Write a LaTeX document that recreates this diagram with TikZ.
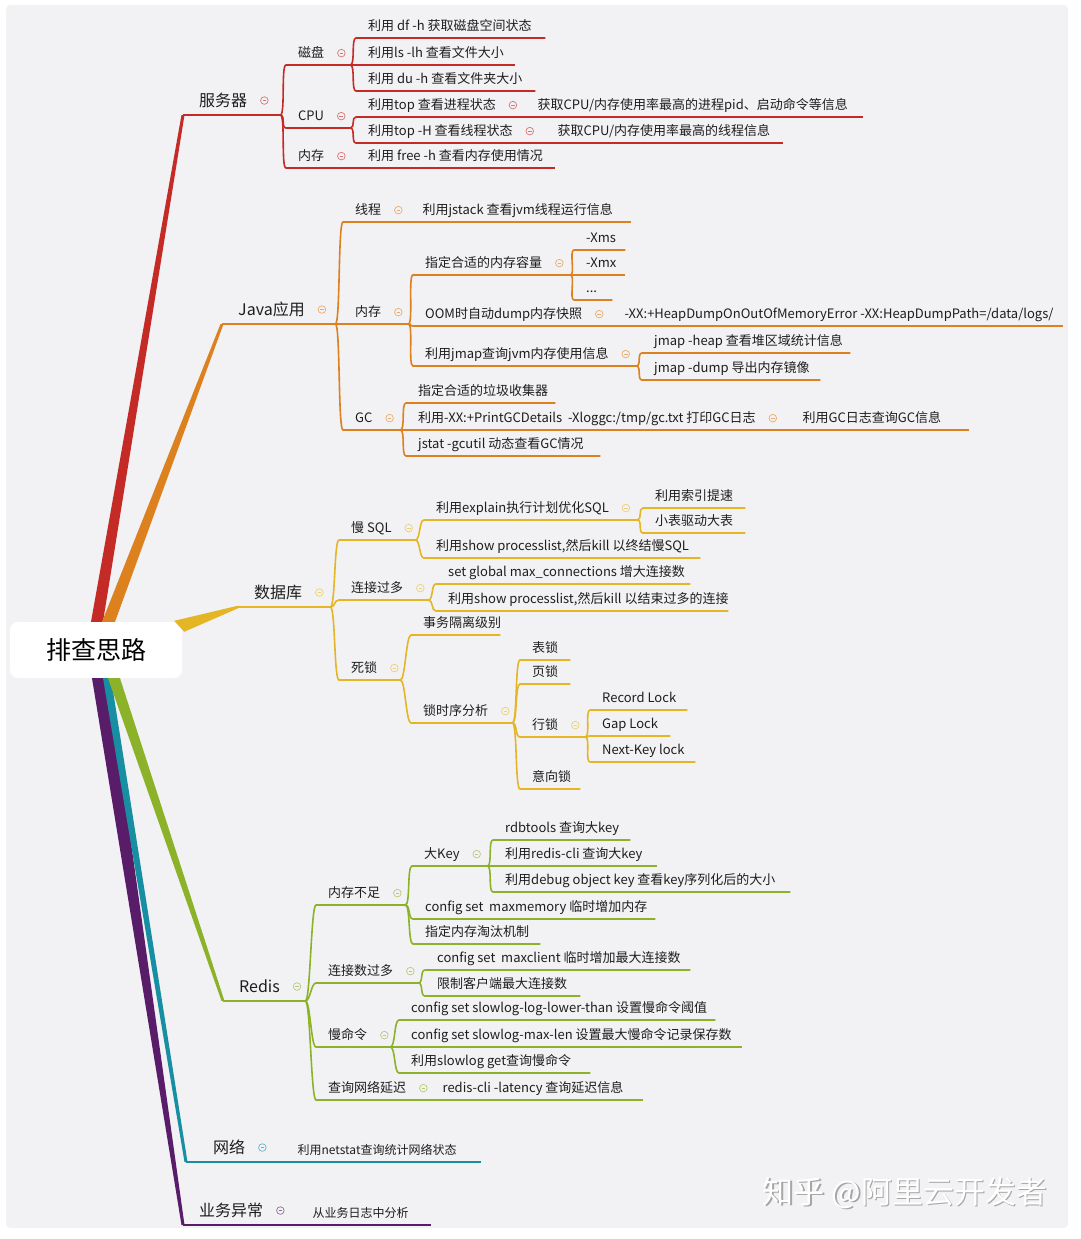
\documentclass[tikz,border=0pt]{standalone}
\usepackage{fontspec}
\setmainfont{Noto Sans CJK SC}
\definecolor{bgpanel}{HTML}{F2F2F4}
\definecolor{txt}{HTML}{1E1E1E}
\definecolor{cRed}{RGB}{196,42,38}
\definecolor{cOrg}{RGB}{221,128,30}
\definecolor{cYel}{RGB}{228,182,38}
\definecolor{cGrn}{RGB}{140,178,42}
\definecolor{cTeal}{RGB}{24,142,162}
\definecolor{cPur}{RGB}{88,28,105}
\colorlet{br}{cRed}
% 折叠图标
\newcommand{\ic}{\hskip13pt\tikz[baseline=-0.36em]{\draw[br!65!white,line width=0.7pt] (0pt,0pt) circle (3.8pt);
  \draw[br!65!white,line width=0.7pt] (-1.8pt,0pt) -- (1.8pt,0pt);}}
\tikzset{
  tp/.style={anchor=south west, inner xsep=0pt, inner ysep=7pt, text depth=0pt, text=txt,
    font=\fontsize{13}{15}\selectfont,
    execute at begin node={\hbox to #1pt\bgroup\hskip12pt\relax}, execute at end node={\hss\egroup}},
  main/.style 2 args={anchor=south west, inner xsep=0pt, inner ysep=8.5pt, text depth=0pt, text=txt,
    font=\fontsize{16}{18}\selectfont,
    execute at begin node={\hbox to #1pt\bgroup\hskip#2pt\relax}, execute at end node={\hss\egroup}},
  root/.style={fill=white, rounded corners=8pt, minimum width=172pt, minimum height=56pt,
    text=black, font=\fontsize{25}{28}\selectfont},
  ln/.style={draw=br, line width=1.6pt},
  ln1/.style={draw=br, line width=2pt},
  fork/.style={to path={.. controls +(5,0) and +(-5,0) .. (\tikztotarget) \tikztonodes}},
  wm/.style={font=\fontsize{31}{34}\selectfont}
}
\begin{document}
\begin{tikzpicture}[x=1pt,y=-1pt]
  \useasboundingbox (0,0) rectangle (1080,1239);
  % 背景
  \fill[white] (0,0) rectangle (1080,1239);
  \fill[bgpanel, rounded corners=4pt] (6,5) rectangle (1068,1228);
  % 中心主题
  \node[root] (root) at (96,650) {排查思路};

  % 服务器
  \begin{scope}
    \colorlet{br}{cRed}
    \node[main={97}{16}] (srv) at (183,115) {服务器\ic};
    \node[tp=64] (disk) at (286,65) {磁盘\ic};
    \node[tp=64] (cpu) at (286,128) {CPU\ic};
    \node[tp=64] (smem) at (286,168) {内存\ic};
    \node[tp=189] (df) at (356,38) {利用 df -h 获取磁盘空间状态};
    \node[tp=159] (ls) at (356,65) {利用ls -lh 查看文件大小};
    \node[tp=179] (du) at (356,91) {利用 du -h 查看文件夹大小};
    \node[tp=169] (top) at (356,117) {利用top 查看进程状态\ic};
    \node[tp=337] (topinfo) at (top.south east) {获取CPU/内存使用率最高的进程pid、启动命令等信息};
    \node[tp=189] (toph) at (356,143) {利用top -H 查看线程状态\ic};
    \node[tp=237] (tophinfo) at (toph.south east) {获取CPU/内存使用率最高的线程信息};
    \node[tp=199] (free) at (356,168) {利用 free -h 查看内存使用情况};
    \fill[br] ([xshift=-5pt]root.north) -- ([xshift=7pt]root.north) -- ([xshift=1.5pt]srv.south west)
      -- ([xshift=-1.5pt]srv.south west) -- cycle;
    \draw[ln1] (srv.south west) -- (srv.south east);
    \foreach \c in {disk,cpu,smem} \draw[ln] (srv.south east) to[fork] (\c.south west) -- (\c.south east);
    \foreach \c in {df,ls,du} \draw[ln] (disk.south east) to[fork] (\c.south west) -- (\c.south east);
    \foreach \c in {top,toph} \draw[ln] (cpu.south east) to[fork] (\c.south west) -- (\c.south east);
    \draw[ln] (smem.south east) to[fork] (free.south west) -- (free.south east);
    \draw[ln] (top.south east) -- (topinfo.south east);
    \draw[ln] (toph.south east) -- (tophinfo.south east);
  \end{scope}

  % Java应用
  \begin{scope}
    \colorlet{br}{cOrg}
    \node[main={113}{16}] (java) at (222,324) {Java应用\ic};
    \node[tp=67] (thr) at (343,222) {线程\ic};
    \node[tp=220] (jstack) at (thr.south east) {利用jstack 查看jvm线程运行信息};
    \node[tp=65] (jmem) at (343,324) {内存\ic};
    \node[tp=57] (gc) at (343,430) {GC\ic};
    \node[tp=157] (cap) at (413,275) {指定合适的内存容量\ic};
    \node[tp=51] (xms) at (574,250) {-Xms};
    \node[tp=51] (xmx) at (574,275) {-Xmx};
    \node[tp=38] (more) at (574,300) {...};
    \node[tp=199] (oom) at (413,326) {OOM时自动dump内存快照\ic};
    \node[tp=450] (heapdump) at (oom.south east) {-XX:+HeapDumpOnOutOfMemoryError -XX:HeapDumpPath=/data/logs/};
    \node[tp=223] (jmap) at (413,366) {利用jmap查询jvm内存使用信息\ic};
    \node[tp=208] (jheap) at (642,353) {jmap -heap 查看堆区域统计信息};
    \node[tp=178] (jdump) at (642,380) {jmap -dump 导出内存镜像};
    \node[tp=149] (gcsel) at (406,403) {指定合适的垃圾收集器};
    \node[tp=384] (gclog) at (406,430) {利用-XX:+PrintGCDetails\ \ -Xloggc:/tmp/gc.txt 打印GC日志\ic};
    \node[tp=178] (gcinfo) at (gclog.south east) {利用GC日志查询GC信息};
    \node[tp=194] (jstat) at (406,456) {jstat -gcutil 动态查看GC情况};
    \fill[br] ([xshift=6pt]root.north) -- ([xshift=19pt]root.north) -- ([xshift=1.5pt]java.south west)
      -- ([xshift=-1.5pt]java.south west) -- cycle;
    \draw[ln1] (java.south west) -- (java.south east);
    \foreach \c in {thr,jmem,gc} \draw[ln] (java.south east) to[fork] (\c.south west) -- (\c.south east);
    \foreach \c in {cap,oom,jmap} \draw[ln] (jmem.south east) to[fork] (\c.south west) -- (\c.south east);
    \foreach \c in {xms,xmx,more} \draw[ln] (cap.south east) to[fork] (\c.south west) -- (\c.south east);
    \foreach \c in {jheap,jdump} \draw[ln] (jmap.south east) to[fork] (\c.south west) -- (\c.south east);
    \foreach \c in {gcsel,gclog,jstat} \draw[ln] (gc.south east) to[fork] (\c.south west) -- (\c.south east);
    \draw[ln] (thr.south east) -- (jstack.south east);
    \draw[ln] (oom.south east) -- (heapdump.south east);
    \draw[ln] (gclog.south east) -- (gcinfo.south east);
  \end{scope}

  % 数据库
  \begin{scope}
    \colorlet{br}{cYel}
    \node[main={92}{16}] (db) at (238,607) {数据库\ic};
    \node[tp=76] (slow) at (339,540) {慢 SQL\ic};
    \node[tp=89] (conn) at (339,600) {连接过多\ic};
    \node[tp=61] (dl) at (339,680) {死锁\ic};
    \node[tp=213] (explain) at (424,520) {利用explain执行计划优化SQL\ic};
    \node[tp=102] (index) at (643,508) {利用索引提速};
    \node[tp=102] (small) at (643,533) {小表驱动大表};
    \node[tp=276] (kill1) at (424,558) {利用show processlist,然后kill 以终结慢SQL};
    \node[tp=254] (maxconn) at (436,584) {set global max\_connections 增大连接数};
    \node[tp=292] (kill2) at (436,611) {利用show processlist,然后kill 以结束过多的连接};
    \node[tp=89] (iso) at (411,635) {事务隔离级别};
    \node[tp=101] (seq) at (411,723) {锁时序分析\ic};
    \node[tp=50] (tbl) at (520,660) {表锁};
    \node[tp=50] (page) at (520,684) {页锁};
    \node[tp=65] (row) at (520,737) {行锁\ic};
    \node[tp=60] (intent) at (520,789) {意向锁};
    \node[tp=97] (rec) at (590,710) {Record Lock};
    \node[tp=80] (gap) at (590,736) {Gap Lock};
    \node[tp=105] (nkl) at (590,762) {Next-Key lock};
    \fill[br] ([shift={(-8,-1)}]root.north east) -- ([yshift=1.3pt]db.south west)
      -- ([yshift=-1.3pt]db.south west) -- ([shift={(2,10)}]root.north east) -- cycle;
    \draw[ln1] (db.south west) -- (db.south east);
    \foreach \c in {slow,conn,dl} \draw[ln] (db.south east) to[fork] (\c.south west) -- (\c.south east);
    \foreach \c in {explain,kill1} \draw[ln] (slow.south east) to[fork] (\c.south west) -- (\c.south east);
    \foreach \c in {index,small} \draw[ln] (explain.south east) to[fork] (\c.south west) -- (\c.south east);
    \foreach \c in {maxconn,kill2} \draw[ln] (conn.south east) to[fork] (\c.south west) -- (\c.south east);
    \foreach \c in {iso,seq} \draw[ln] (dl.south east) to[fork] (\c.south west) -- (\c.south east);
    \foreach \c in {tbl,page,row,intent} \draw[ln] (seq.south east) to[fork] (\c.south west) -- (\c.south east);
    \foreach \c in {rec,gap,nkl} \draw[ln] (row.south east) to[fork] (\c.south west) -- (\c.south east);
  \end{scope}

  % Redis
  \begin{scope}
    \colorlet{br}{cGrn}
    \node[main={82}{16}] (redis) at (223,1001) {Redis\ic};
    \node[tp=89] (rmem) at (316,905) {内存不足\ic};
    \node[tp=102] (rconn) at (316,983) {连接数过多\ic};
    \node[tp=74] (rslow) at (316,1047) {慢命令\ic};
    \node[tp=114] (rnet) at (316,1100) {查询网络延迟\ic};
    \node[tp=212] (latency) at (rnet.south east) {redis-cli -latency 查询延迟信息};
    \node[tp=75] (bigkey) at (412,866) {大Key\ic};
    \node[tp=242] (maxmem) at (413,919) {config set\ \ maxmemory 临时增加内存};
    \node[tp=127] (evict) at (413,944) {指定内存淘汰机制};
    \node[tp=137] (rdb) at (493,840) {rdbtools 查询大key};
    \node[tp=164] (cli) at (493,866) {利用redis-cli 查询大key};
    \node[tp=297] (dbg) at (493,892) {利用debug object key 查看key序列化后的大小};
    \node[tp=265] (maxcli) at (425,970) {config set\ \ maxclient 临时增加最大连接数};
    \node[tp=155] (limit) at (425,996) {限制客户端最大连接数};
    \node[tp=316] (slowth) at (399,1020) {config set slowlog-log-lower-than 设置慢命令阈值};
    \node[tp=343] (slowlen) at (399,1047) {config set slowlog-max-len 设置最大慢命令记录保存数};
    \node[tp=191] (slowget) at (399,1073) {利用slowlog get查询慢命令};
  \end{scope}

  % 网络 / 业务异常
  \begin{scope}
    \colorlet{br}{cTeal}
    \node[main={99}{27}] (net) at (186,1162) {网络\ic};
    \node[tp=195, font=\fontsize{12}{14}\selectfont] (netstat) at (net.south east) {利用netstat查询统计网络状态};
  \end{scope}
  \begin{scope}
    \colorlet{br}{cPur}
    \node[main={117}{16}] (biz) at (183,1225) {业务异常\ic};
    \node[tp=130, font=\fontsize{12}{14}\selectfont] (bizlog) at (biz.south east) {从业务日志中分析};
    \fill[br] ([xshift=-4pt]root.south) -- ([xshift=12pt]root.south) -- ([xshift=1.5pt]biz.south west)
      -- ([xshift=-1.5pt]biz.south west) -- cycle;
    \draw[ln1] (biz.south west) -- (biz.south east);
    \draw[ln] (biz.south east) -- (bizlog.south east);
  \end{scope}
  \begin{scope}
    \colorlet{br}{cTeal}
    \fill[br] ([xshift=7pt]root.south) -- ([xshift=15pt]root.south) -- ([xshift=1.5pt]net.south west)
      -- ([xshift=-1.5pt]net.south west) -- cycle;
    \draw[ln1] (net.south west) -- (net.south east);
    \draw[ln] (net.south east) -- (netstat.south east);
  \end{scope}
  \begin{scope}
    \colorlet{br}{cGrn}
    \fill[br] ([xshift=12pt]root.south) -- ([xshift=24pt]root.south) -- ([xshift=1.5pt]redis.south west)
      -- ([xshift=-1.5pt]redis.south west) -- cycle;
    \draw[ln1] (redis.south west) -- (redis.south east);
    \foreach \c in {rmem,rconn,rslow,rnet} \draw[ln] (redis.south east) to[fork] (\c.south west) -- (\c.south east);
    \foreach \c in {bigkey,maxmem,evict} \draw[ln] (rmem.south east) to[fork] (\c.south west) -- (\c.south east);
    \foreach \c in {rdb,cli,dbg} \draw[ln] (bigkey.south east) to[fork] (\c.south west) -- (\c.south east);
    \foreach \c in {maxcli,limit} \draw[ln] (rconn.south east) to[fork] (\c.south west) -- (\c.south east);
    \foreach \c in {slowth,slowlen,slowget} \draw[ln] (rslow.south east) to[fork] (\c.south west) -- (\c.south east);
    \draw[ln] (rnet.south east) -- (latency.south east);
  \end{scope}

  % 水印
  \node[wm, text=black!35] (wmshade) at (906.2,1194.2) {知乎 @阿里云开发者};
  \node[wm, text=white] (wmark) at (905,1193) {知乎 @阿里云开发者};
\end{tikzpicture}
\end{document}
